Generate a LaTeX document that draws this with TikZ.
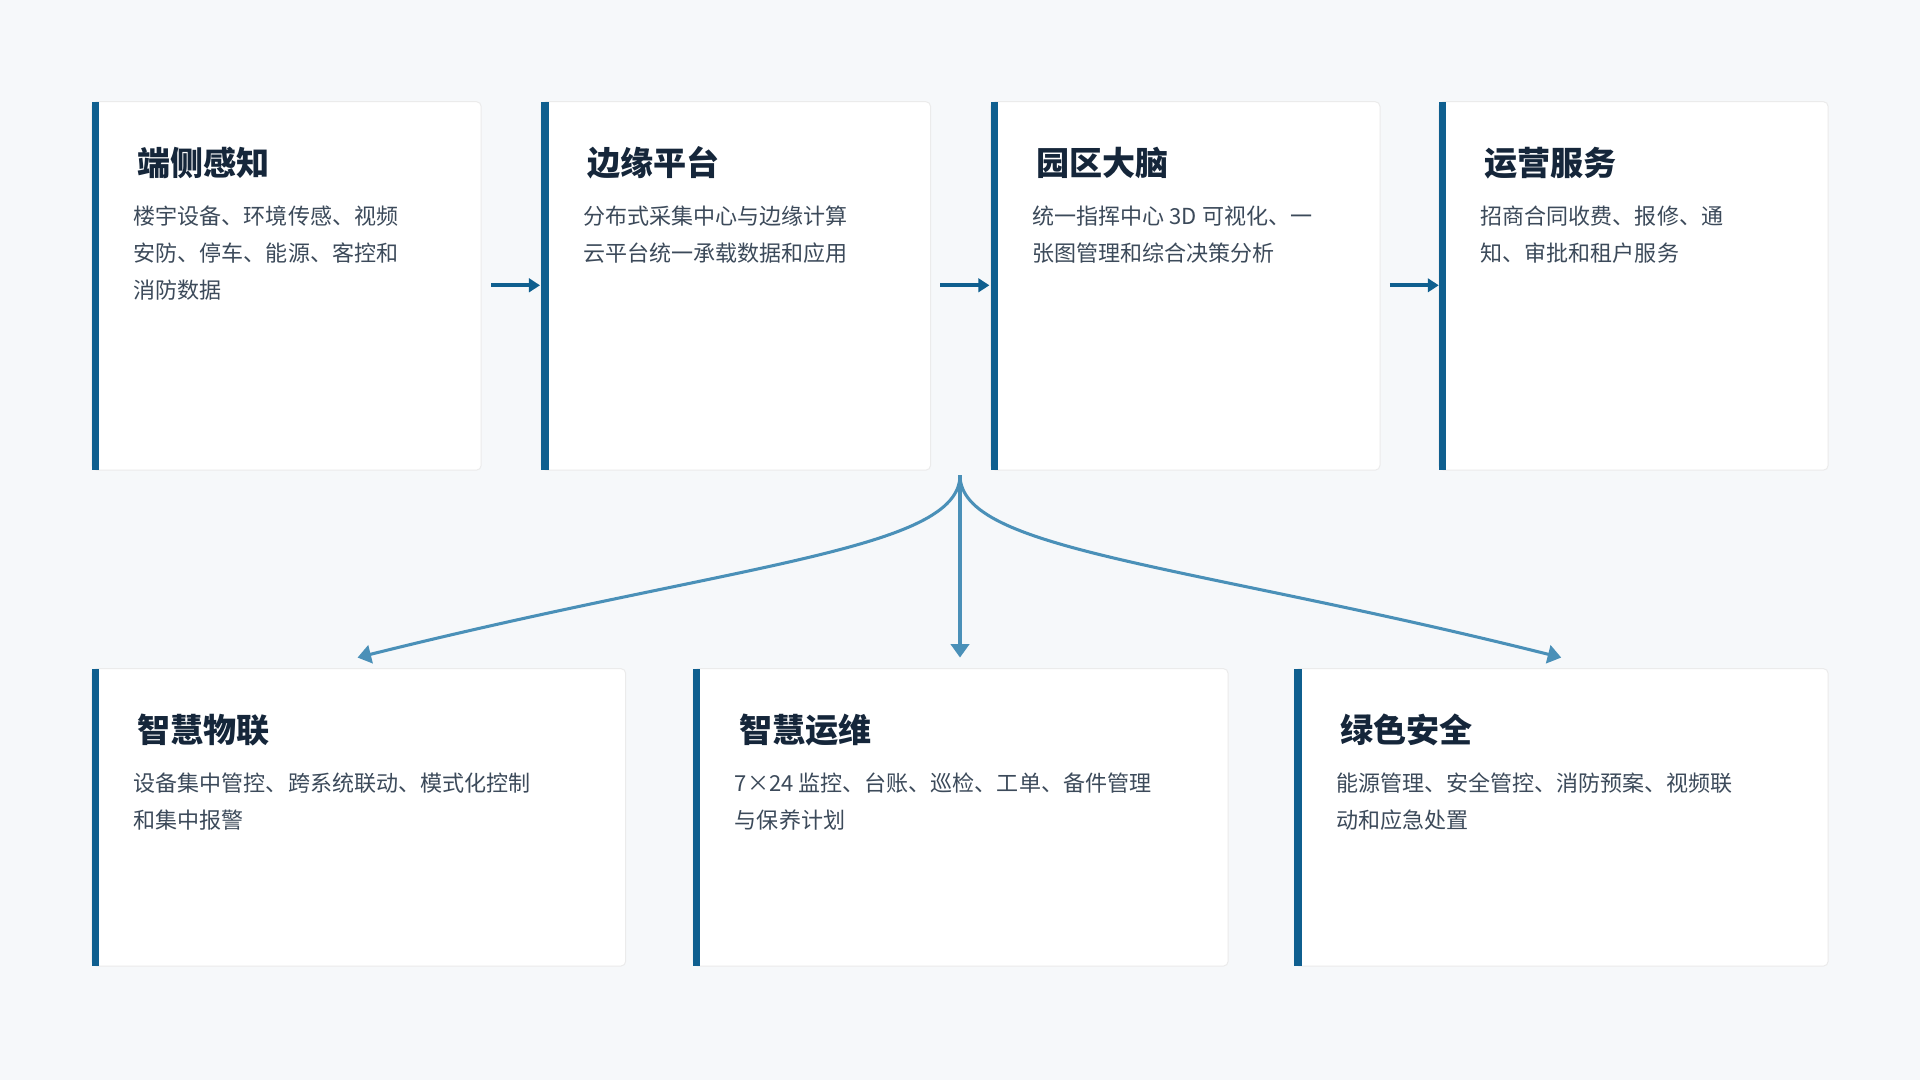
\documentclass[tikz,border=0pt]{standalone}
\usepackage{fontspec}
\setmainfont{Noto Sans CJK SC}
\usetikzlibrary{positioning,arrows.meta}
\definecolor{bgc}{HTML}{F6F8FA}
\definecolor{barc}{HTML}{0F5F8F}
\definecolor{titc}{HTML}{15263A}
\definecolor{txtc}{HTML}{3C4A5A}
\definecolor{linkc}{HTML}{4A90B8}
\tikzset{
  card/.style={draw=black!8, fill=white, rounded corners=4pt, line width=0.8pt},
  cardtitle/.style={anchor=west, text=titc, font=\fontsize{27}{30}\selectfont\bfseries},
  cardtext/.style={anchor=north west, align=left, text=txtc, font=\fontsize{18}{30}\selectfont, inner sep=0pt},
  flow/.style={draw=barc, line width=3.5pt, -{Triangle[length=9pt,width=11pt]}},
  branch/.style={draw=linkc, line width=2.5pt, -{Triangle[length=11pt,width=15pt]}}
}
\newcommand{\card}[7]{%
  \draw[card] (#1,#2) rectangle (#3,#4);
  \fill[barc] (#1,#2) rectangle ++(6,#4-#2);
  \node[cardtitle] (#5) at (#1+34,#2+50) {#6};
  \node[cardtext] (#5t) at (#1+34,#2+85) {#7};
  \coordinate (#5c) at ({(#1+#3)/2},{(#2+#4)/2});
}
\begin{document}
\begin{tikzpicture}[x=1pt,y=-1pt]
\fill[bgc] (0,0) rectangle (1568,882);
\card{75}{83}{393}{384}{dc}{端侧感知}{楼宇设备、环境传感、视频\\安防、停车、能源、客控和\\消防数据}
\card{442}{83}{760}{384}{by}{边缘平台}{分布式采集中心与边缘计算\\云平台统一承载数据和应用}
\card{809}{83}{1127}{384}{yq}{园区大脑}{统一指挥中心 3D 可视化、一\\张图管理和综合决策分析}
\card{1175}{83}{1493}{384}{yy}{运营服务}{招商合同收费、报修、通\\知、审批和租户服务}
\card{75}{546}{511}{789}{wl}{智慧物联}{设备集中管控、跨系统联动、模式化控制\\和集中报警}
\card{566}{546}{1003}{789}{yw}{智慧运维}{7×24 监控、台账、巡检、工单、备件管理\\与保养计划}
\card{1057}{546}{1493}{789}{ls}{绿色安全}{能源管理、安全管控、消防预案、视频联\\动和应急处置}
% main chain
\coordinate (a1) at (401,233); \coordinate (a2) at (441,233);
\coordinate (b1) at (768,233); \coordinate (b2) at (808,233);
\coordinate (c1) at (1135,233); \coordinate (c2) at (1175,233);
\draw[flow] (a1) -- (a2);
\draw[flow] (b1) -- (b2);
\draw[flow] (c1) -- (c2);
% branches
\coordinate (src) at (784,388);
\coordinate (t1) at (292,537); \coordinate (t2) at (784,537); \coordinate (t3) at (1275,537);
\draw[branch] (src) .. controls (784,450) and (600,460) .. (t1);
\draw[branch] (src) -- (t2);
\draw[branch] (src) .. controls (784,450) and (968,460) .. (t3);
\end{tikzpicture}
\end{document}
